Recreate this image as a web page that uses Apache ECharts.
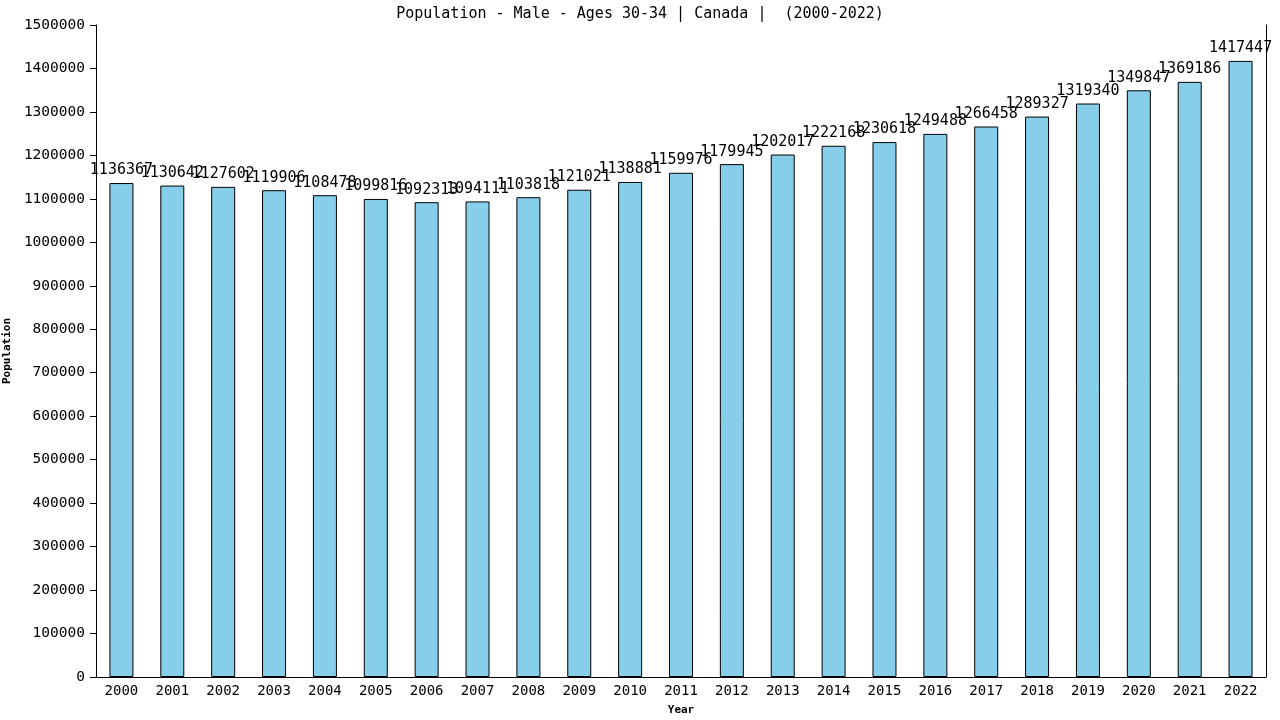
<!DOCTYPE html>
<html><head><meta charset="utf-8">
<script src="https://cdn.jsdelivr.net/npm/echarts@6/dist/echarts.min.js"></script>
<style>html,body{margin:0;padding:0;background:#fff}#c{width:1280px;height:720px}</style>
</head><body><div id="c"></div>
<script>
const years = ['2000','2001','2002','2003','2004','2005','2006','2007','2008','2009','2010','2011','2012','2013','2014','2015','2016','2017','2018','2019','2020','2021','2022'];
const population = [1136367,1130642,1127602,1119906,1108478,1099816,1092313,1094111,1103818,1121021,1138881,1159976,1179945,1202017,1222168,1230618,1249488,1266458,1289327,1319340,1349847,1369186,1417447];
const titleText = 'Population - Male - Ages 30-34 | Canada |  (2000-2022)';
const font = 'DejaVu Sans Mono';
const chart = echarts.init(document.getElementById('c'));
chart.setOption({
  animation:false,
  title:{text:titleText,left:'center',top:2,textStyle:{fontFamily:font,fontSize:15,fontWeight:'normal',color:'#000'}},
  grid:{left:96,right:14,top:25,bottom:43,containLabel:false,outerBoundsMode:'none'},
  xAxis:{type:'category',data:years,name:'Year',nameLocation:'middle',nameGap:28,
    nameTextStyle:{fontFamily:font,fontSize:11,fontWeight:'bold',color:'#000'},
    axisLine:{lineStyle:{color:'#000',width:1}},axisTick:{show:false},
    axisLabel:{fontFamily:font,fontSize:14,color:'#000',margin:7}},
  yAxis:[{type:'value',min:0,max:1500000,interval:100000,name:'Population',nameLocation:'middle',nameGap:84,
    nameTextStyle:{fontFamily:font,fontSize:11,fontWeight:'bold',color:'#000',align:'center',verticalAlign:'middle'},
    axisLine:{show:true,lineStyle:{color:'#000'}},axisTick:{show:true,length:6,lineStyle:{color:'#000'}},
    splitLine:{show:false},axisLabel:{fontFamily:font,fontSize:14.5,color:'#000',margin:11,formatter:v=>String(v)}},
    {type:'value',min:0,max:1500000,position:'right',axisLine:{show:true,lineStyle:{color:'#000'}},
    axisTick:{show:false},axisLabel:{show:false},splitLine:{show:false}}],
  series:[{type:'bar',data:population,barWidth:24,
    itemStyle:{color:'#87CEEB',borderColor:'#000',borderWidth:1},
    label:{show:true,position:'top',distance:5,fontFamily:font,fontSize:15,color:'#000'}}]
});
</script></body></html>
